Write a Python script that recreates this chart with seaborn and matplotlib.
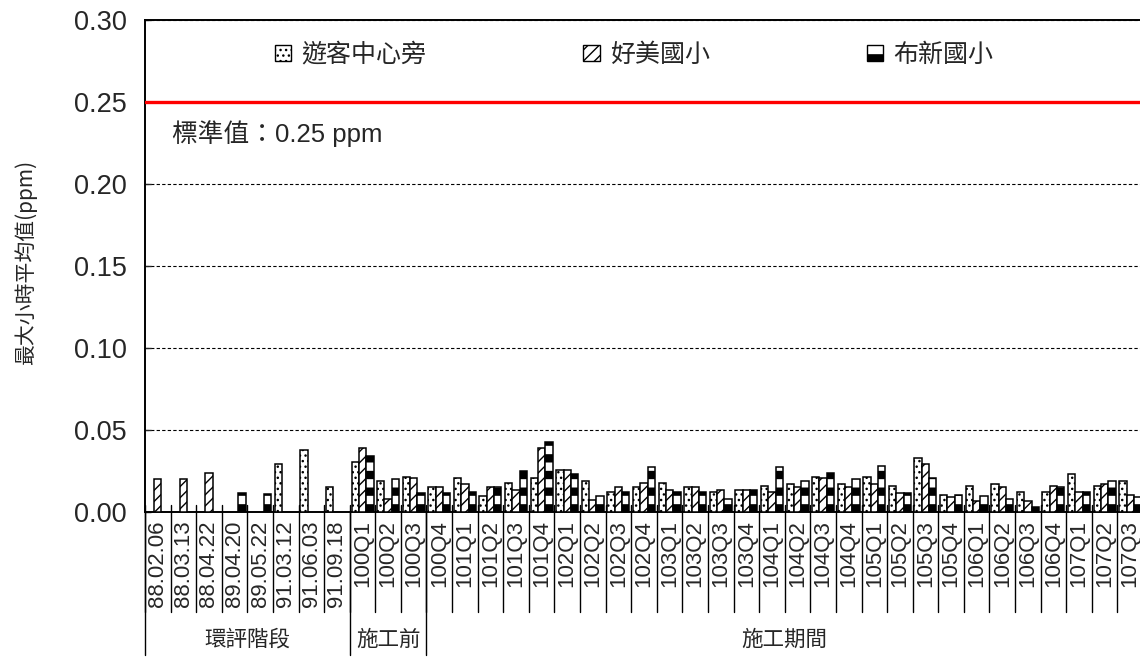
import numpy as np
import pandas as pd
import matplotlib
matplotlib.use("Agg")
import matplotlib.pyplot as plt
import seaborn as sns
from matplotlib.patches import Patch
from matplotlib.transforms import blended_transform_factory

# ---------------- data ----------------
categories = ["88.02.06", "88.03.13", "88.04.22", "89.04.20", "89.05.22",
              "91.03.12", "91.06.03", "91.09.18",
              "100Q1", "100Q2", "100Q3", "100Q4",
              "101Q1", "101Q2", "101Q3", "101Q4",
              "102Q1", "102Q2", "102Q3", "102Q4",
              "103Q1", "103Q2", "103Q3", "103Q4",
              "104Q1", "104Q2", "104Q3", "104Q4",
              "105Q1", "105Q2", "105Q3", "105Q4",
              "106Q1", "106Q2", "106Q3", "106Q4",
              "107Q1", "107Q2", "107Q3"]
nan = np.nan
visitor = [nan, nan, nan, nan, nan, 0.029, 0.038, 0.0153,
           0.0305, 0.019, 0.0216, 0.0152,
           0.0208, 0.0099, 0.0177, 0.0208,
           0.0255, 0.019, 0.012, 0.0152,
           0.0177, 0.0152, 0.012, 0.0136,
           0.016, 0.0169, 0.0216, 0.0169,
           0.0216, 0.016, 0.0328, 0.0105,
           0.016, 0.0169, 0.012, 0.012,
           0.0233, 0.016, 0.019]
haomei = [0.020, 0.020, 0.024, nan, nan, nan, nan, nan,
          0.039, 0.008, 0.0208, 0.0152,
          0.017, 0.0152, 0.0136, 0.039,
          0.0255, 0.0074, 0.0152, 0.0177,
          0.0136, 0.0152, 0.0136, 0.0136,
          0.012, 0.0152, 0.0208, 0.0152,
          0.0169, 0.0115, 0.0295, 0.0093,
          0.0066, 0.0152, 0.0066, 0.016,
          0.012, 0.0169, 0.0105]
buxin = [nan, nan, nan, 0.0115, 0.0107, nan, nan, nan,
         0.0344, 0.020, 0.0115, 0.0115,
         0.012, 0.0152, 0.0247, 0.0428,
         0.0233, 0.0099, 0.012, 0.0272,
         0.012, 0.012, 0.0082, 0.0136,
         0.0272, 0.019, 0.0239, 0.020,
         0.028, 0.0115, 0.021, 0.0105,
         0.0099, 0.0082, 0.0033, 0.0152,
         0.012, 0.019, 0.0093]
series_names = ["遊客中心旁", "好美國小", "布新國小"]
series_hatches = ["...", "///", "-"]
y_ticks = [0.00, 0.05, 0.10, 0.15, 0.20, 0.25, 0.30]
standard_value = 0.25
standard_label = "標準值：0.25 ppm"
ylabel = "最大小時平均值(ppm)"
group_names = ["環評階段", "施工前", "施工期間"]
group_bounds = [0, 8, 11, 39]

# ---------------- frame ----------------
df = pd.DataFrame({
    "cat": categories * 3,
    "site": sum([[s] * len(categories) for s in series_names], []),
    "val": visitor + haomei + buxin,
}).dropna()

sns.set_style("ticks")
plt.rcParams["font.family"] = ["Liberation Sans", "Noto Sans CJK TC", "DejaVu Sans"]
plt.rcParams["hatch.color"] = "black"


def set_hlw(p, lw):
    try:
        p.set_hatch_linewidth(lw)
    except Exception:
        p._hatch_linewidth = lw


fig = plt.figure(figsize=(11.4, 6.57), dpi=100)
ax = fig.add_axes([145 / 1140, (657 - 512) / 657, 998 / 1140, 492 / 657])

sns.barplot(data=df, x="cat", y="val", hue="site", order=categories,
            hue_order=series_names, width=0.86, dodge=True,
            edgecolor="black", linewidth=1.1, errorbar=None,
            legend=False, ax=ax, zorder=3)

for cont, h in zip(ax.containers, series_hatches):
    for bar in cont:
        bar.set_facecolor("white")
        bar.set_hatch(h)
        set_hlw(bar, 6.0 if h == "-" else 1.0)

ax.set_xlim(-0.5, len(categories) - 0.5)
ax.set_ylim(y_ticks[0], y_ticks[-1])
ax.set_yticks(y_ticks)
ax.set_yticklabels([f"{v:.2f}" for v in y_ticks])
ax.tick_params(axis="y", direction="in", length=4, width=1, pad=13, labelsize=19.5)
ax.tick_params(axis="x", length=0, pad=6, labelsize=16)
ax.set_xticks(range(len(categories)))
ax.set_xticklabels(categories, rotation=90, va="top", ha="center")
ax.set_xlabel("")
ax.set_ylabel(ylabel, fontsize=15, family=["Noto Sans CJK TC", "Liberation Sans"])
ax.yaxis.set_label_coords(-0.108, 0.508)

for s in ax.spines.values():
    s.set_color("black")
    s.set_linewidth(1.4)

ax.grid(axis="y", linestyle=(0, (3, 2)), color="black", linewidth=0.8)
ax.set_axisbelow(True)

ax.axhline(standard_value, color="#ff0000", linewidth=2.4, zorder=4)
ax.text(0.027, standard_value - 0.019, standard_label,
        transform=blended_transform_factory(ax.transAxes, ax.transData),
        fontsize=18.5, va="center", ha="left",
        family=["Liberation Sans", "Noto Sans CJK TC"])

# category separators below the axis
trans = blended_transform_factory(ax.transData, ax.transAxes)
bounds = np.arange(len(categories) + 1) - 0.5
for b in bounds:
    ax.plot([b, b], [0.015, -0.203], transform=trans, color="black", lw=1.0, clip_on=False)
for i, name in enumerate(group_names):
    b0, b1 = group_bounds[i], group_bounds[i + 1]
    ax.plot([b0 - 0.5, b0 - 0.5], [0, -0.29], transform=trans, color="black", lw=1.0, clip_on=False)
    ax.text((b0 + b1) / 2 - 0.5, -0.26, name, transform=trans, ha="center", va="center",
            fontsize=15.5, family=["Noto Sans CJK TC"])

# legend
handles = [Patch(facecolor="white", edgecolor="black", hatch=h, label=n)
           for n, h in zip(series_names, series_hatches)]
leg = ax.legend(handles=handles, loc="center", bbox_to_anchor=(0.49, 0.929), ncol=3,
                frameon=False, handlelength=0.65, handleheight=0.65, handletextpad=0.4,
                columnspacing=6.3, prop={"family": ["Noto Sans CJK TC"], "size": 18})
for p, h in zip(leg.get_patches(), series_hatches):
    set_hlw(p, 6.0 if h == "-" else 1.0)

fig.savefig("out.png", dpi=100)
